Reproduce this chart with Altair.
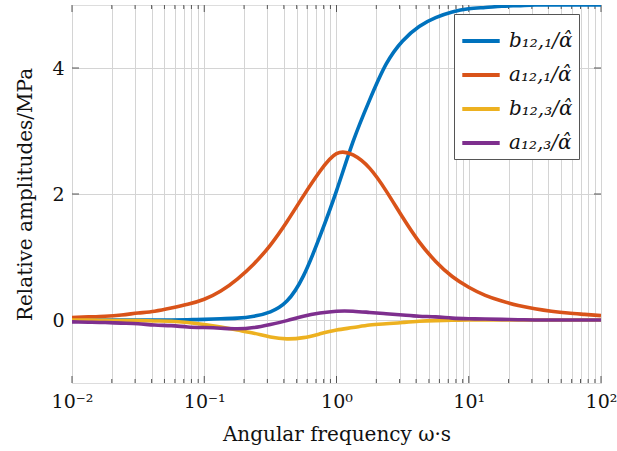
import altair as alt
import pandas as pd

# log10(omega) sampled uniformly, step 0.125
log_omega = [-2.0, -1.875, -1.75, -1.625, -1.5, -1.375, -1.25, -1.125, -1.0,
             -0.875, -0.75, -0.625, -0.5, -0.375, -0.25, -0.125, 0.0,
             0.125, 0.25, 0.375, 0.5, 0.625, 0.75, 0.875, 1.0,
             1.125, 1.25, 1.375, 1.5, 1.625, 1.75, 1.875, 2.0]

b121 = [0.0, 0.0, 0.0, 0.0, 0.0, 0.0, 0.0, 0.005, 0.01,
        0.02, 0.03, 0.06, 0.13, 0.30, 0.70, 1.33, 2.05,
        2.83, 3.49, 4.06, 4.43, 4.66, 4.80, 4.89, 4.94,
        4.96, 4.98, 4.99, 5.0, 5.0, 5.0, 5.0, 5.0]
a121 = [0.04, 0.05, 0.06, 0.08, 0.11, 0.14, 0.19, 0.25, 0.33,
        0.46, 0.65, 0.89, 1.19, 1.56, 1.97, 2.36, 2.64,
        2.62, 2.41, 2.05, 1.63, 1.24, 0.93, 0.69, 0.52,
        0.39, 0.30, 0.23, 0.18, 0.14, 0.11, 0.09, 0.07]
b123 = [0.0, 0.0, -0.005, -0.01, -0.01, -0.015, -0.02, -0.04, -0.07,
        -0.11, -0.16, -0.21, -0.27, -0.30, -0.28, -0.22, -0.16,
        -0.12, -0.08, -0.06, -0.04, -0.02, -0.01, -0.005, 0.0,
        0.0, 0.0, 0.0, 0.0, 0.0, 0.0, 0.0, 0.0]
a123 = [-0.03, -0.035, -0.04, -0.05, -0.06, -0.08, -0.09, -0.11, -0.12,
        -0.13, -0.14, -0.12, -0.07, -0.01, 0.06, 0.11, 0.14,
        0.14, 0.12, 0.10, 0.08, 0.06, 0.05, 0.03, 0.02,
        0.015, 0.01, 0.005, 0.0, 0.0, 0.0, 0.0, 0.0]

names = ["b₁₂,₁/α̂", "a₁₂,₁/α̂", "b₁₂,₃/α̂", "a₁₂,₃/α̂"]
colors = ["#0072BD", "#D95319", "#EDB120", "#7E2F8E"]
series = [b121, a121, b123, a123]

rows = []
for n, s in zip(names, series):
    for lw, v in zip(log_omega, s):
        rows.append({"omega": 10.0 ** lw, "value": v, "series": n})
df = pd.DataFrame(rows)

xticks = [m * 10.0 ** k for k in range(-2, 2) for m in range(1, 10)] + [100.0]
xticks = [float(f"{t:.6g}") for t in xticks]
yticks = [0, 2, 4]

W, H = 529, 378
FONT = "DejaVu Serif"

label_expr = ("datum.value == 0.01 ? '10⁻²' : datum.value == 0.1 ? '10⁻¹' : "
              "datum.value == 1 ? '10⁰' : datum.value == 10 ? '10¹' : "
              "datum.value == 100 ? '10²' : ''")

xscale = alt.Scale(type="log", domain=[0.01, 100], nice=False)
yscale = alt.Scale(domain=[-1, 5], nice=False, zero=False)

lines = alt.Chart(df).mark_line(strokeWidth=3.6, interpolate="natural", clip=True).encode(
    x=alt.X("omega:Q", scale=xscale,
            axis=alt.Axis(values=xticks, labelExpr=label_expr, title="Angular frequency ω·s",
                          grid=True, gridColor="#d4d4d4", gridWidth=1, ticks=False,
                          domain=False, labelFont=FONT, labelFontSize=19, labelPadding=9,
                          labelColor="#111", titleFont=FONT, titleFontSize=20,
                          titleFontWeight="normal", titleColor="#111", titlePadding=13,
                          labelOverlap=False, labelFlush=False)),
    y=alt.Y("value:Q", scale=yscale,
            axis=alt.Axis(values=yticks, format="d", title="Relative amplitudes/MPa", grid=True,
                          gridColor="#d4d4d4", ticks=False, domain=False,
                          labelFont=FONT, labelFontSize=19, labelPadding=8, labelColor="#111",
                          titleFont=FONT, titleFontSize=20, titleFontWeight="normal",
                          titleColor="#111", titlePadding=16)),
    color=alt.Color("series:N", scale=alt.Scale(domain=names, range=colors),
                    legend=alt.Legend(title=None, orient="none", legendX=382, legendY=9,
                                      fillColor="white", strokeColor="#555", padding=6,
                                      labelFont=FONT, labelFontSize=20, labelFontStyle="italic",
                                      labelColor="#111", symbolType="stroke",
                                      symbolStrokeWidth=4, symbolSize=1400,
                                      rowPadding=3, labelOffset=7, cornerRadius=0)),
    order=alt.Order("omega:Q"),
)

tick_rows = []
for t in xticks:
    major = t in (0.01, 0.1, 1.0, 10.0, 100.0)
    tick_rows.append({"t": t, "major": major})
tdf = pd.DataFrame(tick_rows)

tick_col = "#555"
xb_minor = alt.Chart(tdf[~tdf.major]).mark_rule(color=tick_col, strokeWidth=1).encode(
    x=alt.X("t:Q", scale=xscale), y=alt.value(H), y2=alt.value(H - 4))
xb_major = alt.Chart(tdf[tdf.major]).mark_rule(color=tick_col, strokeWidth=1).encode(
    x=alt.X("t:Q", scale=xscale), y=alt.value(H), y2=alt.value(H - 7))
xt_minor = alt.Chart(tdf[~tdf.major]).mark_rule(color=tick_col, strokeWidth=1).encode(
    x=alt.X("t:Q", scale=xscale), y=alt.value(0), y2=alt.value(4))
xt_major = alt.Chart(tdf[tdf.major]).mark_rule(color=tick_col, strokeWidth=1).encode(
    x=alt.X("t:Q", scale=xscale), y=alt.value(0), y2=alt.value(7))
ydf = pd.DataFrame({"v": yticks})
yl = alt.Chart(ydf).mark_rule(color=tick_col, strokeWidth=1).encode(
    y=alt.Y("v:Q", scale=yscale), x=alt.value(0), x2=alt.value(7))
yr = alt.Chart(ydf).mark_rule(color=tick_col, strokeWidth=1).encode(
    y=alt.Y("v:Q", scale=yscale), x=alt.value(W), x2=alt.value(W - 7))

chart = alt.layer(xb_minor, xb_major, xt_minor, xt_major, yl, yr, lines).properties(
    width=W, height=H,
    autosize=alt.AutoSizeParams(type="none"),
    padding={"left": 72, "top": 5, "right": 16, "bottom": 68},
).configure_view(stroke="#444", strokeWidth=1.2).configure(background="white")

chart.save("out.html", embed_options={"renderer": "svg", "actions": False})
